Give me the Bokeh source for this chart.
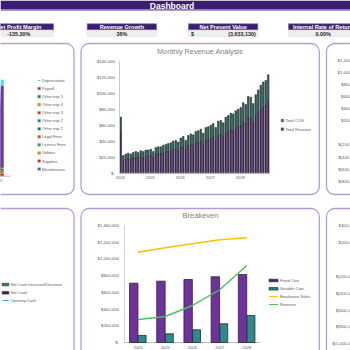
from bokeh.plotting import figure
from bokeh.models import Range1d
from bokeh.core.properties import value
from bokeh.embed import file_html
from bokeh.resources import INLINE

# ---------------- data ----------------
dash_title = "Dashboard"
kpi_names = ["Net Profit Margin", "Revenue Growth", "Net Present Value", "Internal Rate of Return"]
kpi_prefix = ["", "", "$", ""]
kpi_values = ["-135.30%", "36%", "(3,633,130)", "0.00%"]

# Operating expenses (thousands), stacked bottom -> top
exp_years = ["2024", "2025", "2026", "2027", "2028"]
exp_names = ["Maintenance", "Supplies", "Utilities", "Licence Fees", "Legal Fees",
             "Other exp 1", "Other exp 2", "Other exp 3", "Other exp 4", "Other exp 5",
             "Payroll", "Depreciation"]
exp_maintenance = [6, 7, 8, 9, 10]
exp_supplies = [5, 6, 6, 7, 8]
exp_utilities = [6, 7, 7, 8, 9]
exp_licence = [4, 5, 5, 6, 6]
exp_legal = [5, 5, 6, 6, 7]
exp_other1 = [5, 6, 6, 7, 8]
exp_other2 = [4, 5, 5, 6, 6]
exp_other3 = [5, 6, 7, 7, 8]
exp_other4 = [5, 5, 6, 6, 7]
exp_other5 = [6, 7, 8, 8, 9]
exp_payroll = [560, 600, 640, 675, 706]
exp_depreciation = [49, 49, 49, 49, 49]

# Monthly revenue analysis (thousands), 60 months 2024-2028
month_revenue = [50, 16, 17, 18, 17, 19, 19, 19, 20, 19, 21, 21,
                 22, 19, 23, 24, 24, 25, 26, 27, 27, 29, 30, 28,
                 32, 33, 30, 34, 35, 35, 37, 38, 40, 36, 41, 42,
                 43, 45, 41, 47, 48, 45, 50, 52, 54, 53, 56, 58,
                 59, 63, 62, 69, 68, 63, 71, 75, 79, 82, 84, 89]
month_cos = [20, 6, 7, 7, 7, 7, 8, 7, 8, 8, 8, 8,
             8, 8, 9, 9, 9, 10, 10, 10, 11, 11, 11, 11,
             12, 13, 11, 13, 14, 13, 15, 15, 15, 14, 16, 16,
             17, 17, 16, 18, 18, 18, 20, 20, 21, 21, 22, 22,
             23, 25, 24, 27, 27, 24, 27, 29, 31, 32, 32, 34]
month_year_labels = ["2024", "2025", "2026", "2027", "2028"]
month_yticks = [0, 20, 40, 60, 80, 100, 120, 140]
month_ytick_labels = ["$-", "$20,000", "$40,000", "$60,000", "$80,000", "$100,000", "$120,000", "$140,000"]

# Breakeven (thousands)
be_years = ["2024", "2025", "2026", "2027", "2028"]
be_fixed = [710, 734, 754, 787, 814]
be_variable = [84, 104, 152, 224, 323]
be_sales = [1081, 1134, 1182, 1230, 1254]
be_revenue = [275, 311, 443, 631, 922]
be_yticks = [0, 200, 400, 600, 800, 1000, 1200, 1400]
be_ytick_labels = ["$-", "$200,000", "$400,000", "$600,000", "$800,000", "$1,000,000", "$1,200,000", "$1,400,000"]

cash_legend = ["Net Cash Increase/Decrease", "Net Cash", "Opening Cash"]

r1_yticks = [1200, 1000, 800, 600, 400, 200, 0, -200, -400, -600, -800]
r1_ytick_labels = ["$1,200,000", "$1,000,000", "$800,000", "$600,000", "$400,000", "$200,000",
                   "$-", "$(200,000)", "$(400,000)", "$(600,000)", "$(800,000)"]
r2_yticks = [400, 200, 0, -200, -400, -600, -800, -1000]
r2_ytick_labels = ["$400,000", "$200,000", "$-", "$(200,000)", "$(400,000)", "$(600,000)",
                   "$(800,000)", "$(1,000,000)"]

# ---------------- styling ----------------
W = H = 350
FONT = value("Liberation Sans")
BOLD_FONT = value("Liberation Sans")
GRAY = "#595959"
PANEL = "#b79bd8"
HEAD = "#3b1d72"

exp_colors = ["#2f5fcf", "#c62828", "#c8a000", "#3e9b4f", "#c0601a",
              "#14618c", "#1e73d2", "#d32f2f", "#d4a000", "#2e7d32",
              "#6a3d9a", "#5ccfe0"]

p = figure(width=W, height=H, x_range=Range1d(0, W), y_range=Range1d(H, 0),
           x_axis_location=None, y_axis_location=None, min_border=0,
           output_backend="svg", toolbar_location=None)
p.grid.visible = False
p.outline_line_color = None
p.background_fill_color = "white"
p.border_fill_color = "white"


def add_x(name, d0, d1, p0, p1):
    s = (p1 - p0) / (d1 - d0)
    start = d0 - p0 / s
    p.extra_x_ranges = {**p.extra_x_ranges, name: Range1d(start=start, end=start + W / s)}


def add_y(name, v0, v1, pb, pt):
    s = (pb - pt) / (v1 - v0)
    start = v0 - (H - pb) / s
    end = v1 + pt / s
    p.extra_y_ranges = {**p.extra_y_ranges, name: Range1d(start=start, end=end)}


# ---- title bar ----
p.quad(left=[0], right=[W], top=[0], bottom=[9], fill_color=HEAD, line_color=None)
p.quad(left=[0], right=[W], top=[9], bottom=[10.2], fill_color="#8e77bf", line_color=None)
p.text(x=[171.5], y=[5], text=[dash_title], text_font=BOLD_FONT, text_font_style="bold",
       text_font_size="8.5px", text_color="white", text_align="center", text_baseline="middle")

# ---- KPI boxes ----
kpi_left = [-16.3, 86.7, 188, 288]
kpi_w = 69.3
for i, name in enumerate(kpi_names):
    l = kpi_left[i]
    r = l + kpi_w
    p.quad(left=[l], right=[r], top=[23.3], bottom=[29.4], fill_color=HEAD,
           line_color="#7d68a8", line_width=0.6)
    p.quad(left=[l], right=[r], top=[29.6], bottom=[36], fill_color="#eeeeee",
           line_color="#dddddd", line_width=0.5)
    p.text(x=[(l + r) / 2], y=[26.5], text=[name], text_font=BOLD_FONT, text_font_style="bold",
           text_font_size="5.6px", text_color="white", text_align="center", text_baseline="middle")
    if kpi_prefix[i]:
        p.text(x=[l + 2.5], y=[33], text=[kpi_prefix[i]], text_font=BOLD_FONT, text_font_style="bold",
               text_font_size="5.4px", text_color="#262626", text_align="left", text_baseline="middle")
        p.text(x=[r - 2], y=[33], text=[kpi_values[i]], text_font=BOLD_FONT, text_font_style="bold",
               text_font_size="5.4px", text_color="#262626", text_align="right", text_baseline="middle")
    else:
        p.text(x=[(l + r) / 2], y=[33], text=[kpi_values[i]], text_font=BOLD_FONT, text_font_style="bold",
               text_font_size="5.4px", text_color="#262626", text_align="center", text_baseline="middle")

# ---- panels ----
panel_boxes = [(-12, 73.5, 43, 194), (80.5, 318.8, 43, 194), (326, 400, 43, 194),
               (-12, 73.5, 208, 380), (80.5, 318.8, 208, 380), (326, 400, 208, 380)]
for (l, r, t, b) in panel_boxes:
    p.quad(left=[l], right=[r], top=[t], bottom=[b], fill_color="white",
           line_color=PANEL, line_width=1.3, border_radius=8)

# ---- expenses stacked chart (left, row 1) ----
add_x("ex", 4, 5, -16, 10)
add_y("ey", 0, 1000, 175.7, 60)
exp_data = [exp_maintenance, exp_supplies, exp_utilities, exp_licence, exp_legal,
            exp_other1, exp_other2, exp_other3, exp_other4, exp_other5,
            exp_payroll, exp_depreciation]
ex_centers = [k + 0.5 for k in range(len(exp_years))]
base = [0] * len(exp_years)
for vals, col in zip(exp_data, exp_colors):
    top = [b + v for b, v in zip(base, vals)]
    p.vbar(x=ex_centers, width=0.48, bottom=base, top=top, fill_color=col,
           line_color=None, x_range_name="ex", y_range_name="ey")
    base = top
p.line(x=[0, len(exp_years)], y=[0, 0], line_color="#bfbfbf", line_width=1,
       x_range_name="ex", y_range_name="ey")
p.text(x=ex_centers, y=[180] * len(exp_years), text=exp_years, x_range_name="ex",
       text_font=FONT, text_font_size="4px", text_color=GRAY, text_align="center", text_baseline="middle")
# legend (top series first)
for j, (nm, col) in enumerate(zip(exp_names[::-1], exp_colors[::-1])):
    yy = 80 + 8.05 * j
    hh = 1.0 if nm == "Depreciation" else 2.6
    p.quad(left=[37.3], right=[40], top=[yy - hh / 2], bottom=[yy + hh / 2], fill_color=col,
           line_color="#8a8a8a" if nm != "Depreciation" else None, line_width=0.4)
    p.text(x=[41.5], y=[yy], text=[nm], text_font=FONT, text_font_size="4px",
           text_color=GRAY, text_align="left", text_baseline="middle")

# ---- monthly revenue analysis (middle, row 1) ----
p.text(x=[199.5], y=[51], text=["Monthly Revenue Analysis"], text_font=FONT,
       text_font_size="7.3px", text_color="#7f7f7f", text_align="center", text_baseline="middle")
add_x("mx", 0, 60, 119, 269)
add_y("my", 0, 140, 172.7, 60.7)
m_centers = [i + 0.5 for i in range(len(month_revenue))]
m_tot = [a + b for a, b in zip(month_revenue, month_cos)]
p.vbar(x=m_centers, width=0.62, bottom=0, top=month_revenue, fill_color="#4e2a78",
       line_color="#1c1c1c", line_width=0.55, x_range_name="mx", y_range_name="my")
p.vbar(x=m_centers, width=0.62, bottom=month_revenue, top=m_tot, fill_color="#2c6e6b",
       line_color="#1c1c1c", line_width=0.55, x_range_name="mx", y_range_name="my")
p.line(x=[0, 0], y=[0, 140], line_color="#c8c8c8", line_width=1, x_range_name="mx", y_range_name="my")
p.line(x=[0, 60], y=[0, 0], line_color="#bfbfbf", line_width=0.8, x_range_name="mx", y_range_name="my")
p.text(x=[114.5] * len(month_yticks), y=month_yticks, text=month_ytick_labels, y_range_name="my",
       text_font=FONT, text_font_size="4.4px", text_color=GRAY, text_align="right", text_baseline="middle")
p.text(x=[12 * k + 0.3 for k in range(len(month_year_labels))], y=[177] * len(month_year_labels),
       text=month_year_labels, x_range_name="mx", text_font=FONT, text_font_size="4px",
       text_color=GRAY, text_align="center", text_baseline="middle")
for yy, col, nm in [(120, "#2c6e6b", "Total COS"), (128.7, "#4e2a78", "Total Revenue")]:
    p.quad(left=[280.5], right=[283.3], top=[yy - 1.4], bottom=[yy + 1.4], fill_color=col,
           line_color="#8a8a8a", line_width=0.4)
    p.text(x=[285], y=[yy], text=[nm], text_font=FONT, text_font_size="4px",
           text_color=GRAY, text_align="left", text_baseline="middle")

# ---- right panel row 1 tick labels ----
add_y("r1y", 0, 1200, 132.4, 60)
p.text(x=[358.5] * len(r1_yticks), y=r1_yticks, text=r1_ytick_labels, y_range_name="r1y",
       text_font=FONT, text_font_size="4.3px", text_color=GRAY, text_align="right", text_baseline="middle")

# ---- cash flow legend (left, row 2) ----
p.quad(left=[1.7], right=[8.3], top=[282.8], bottom=[285.3], fill_color="#2b7f80",
       line_color="#1f1f1f", line_width=0.6)
p.quad(left=[1.7], right=[8.3], top=[291.1], bottom=[293.6], fill_color="#4b2079",
       line_color="#1f1f1f", line_width=0.6)
p.line(x=[1.7, 8.3], y=[300, 300], line_color="#5b9bd5", line_width=1.2)
p.text(x=[10] * 3, y=[284, 292.3, 300], text=cash_legend, text_font=FONT, text_font_size="4px",
       text_color=GRAY, text_align="left", text_baseline="middle")

# ---- breakeven (middle, row 2) ----
p.text(x=[200], y=[215], text=["Breakeven"], text_font=FONT, text_font_size="7.5px",
       text_color="#7f7f7f", text_align="center", text_baseline="middle")
add_x("bx", 0, 5, 124, 260)
add_y("by", 0, 1400, 342, 225)
b_idx = list(range(len(be_years)))
p.line(x=[0, 0], y=[0, 1400], line_color="#d0d0d0", line_width=1, x_range_name="bx", y_range_name="by")
p.line(x=[0, 5], y=[0, 0], line_color="#bfbfbf", line_width=1, x_range_name="bx", y_range_name="by")
p.vbar(x=[k + 0.34 for k in b_idx], width=0.31, top=be_fixed, bottom=0, fill_color="#7030a0",
       line_color="#2a2a2a", line_width=0.8, x_range_name="bx", y_range_name="by")
p.vbar(x=[k + 0.65 for k in b_idx], width=0.29, top=be_variable, bottom=0, fill_color="#2b8a8e",
       line_color="#2a2a2a", line_width=0.8, x_range_name="bx", y_range_name="by")
p.line(x=[k + 0.5 for k in b_idx], y=be_sales, line_color="#ffc000", line_width=1.6,
       x_range_name="bx", y_range_name="by")
p.line(x=[k + 0.5 for k in b_idx], y=be_revenue, line_color="#4fbf5f", line_width=1.4,
       x_range_name="bx", y_range_name="by")
p.text(x=[118.5] * len(be_yticks), y=be_yticks, text=be_ytick_labels, y_range_name="by",
       text_font=FONT, text_font_size="4.3px", text_color=GRAY, text_align="right", text_baseline="middle")
p.text(x=[k + 0.5 for k in b_idx], y=[347] * len(be_years), text=be_years, x_range_name="bx",
       text_font=FONT, text_font_size="4px", text_color=GRAY, text_align="center", text_baseline="middle")
p.quad(left=[268.5], right=[277.5], top=[278.7], bottom=[281.3], fill_color="#4b2079",
       line_color="#1f1f1f", line_width=0.6)
p.quad(left=[268.5], right=[277.5], top=[287], bottom=[289.6], fill_color="#2b7f80",
       line_color="#1f1f1f", line_width=0.6)
p.line(x=[268.5, 277.5], y=[296, 296], line_color="#ffc000", line_width=1.2)
p.line(x=[268.5, 277.5], y=[304, 304], line_color="#4fbf5f", line_width=1.2)
p.text(x=[279.5] * 4, y=[280, 288.3, 296, 304],
       text=["Fixed Cost", "Variable Cost", "Breakeven Sales", "Revenue"],
       text_font=FONT, text_font_size="4px", text_color=GRAY, text_align="left", text_baseline="middle")

# ---- right panel row 2 tick labels ----
add_y("r2y", -1000, 400, 343.3, 225)
p.text(x=[356] * len(r2_yticks), y=r2_yticks, text=r2_ytick_labels, y_range_name="r2y",
       text_font=FONT, text_font_size="4.3px", text_color=GRAY, text_align="right", text_baseline="middle")

open("out.html", "w").write(file_html(p, INLINE))
